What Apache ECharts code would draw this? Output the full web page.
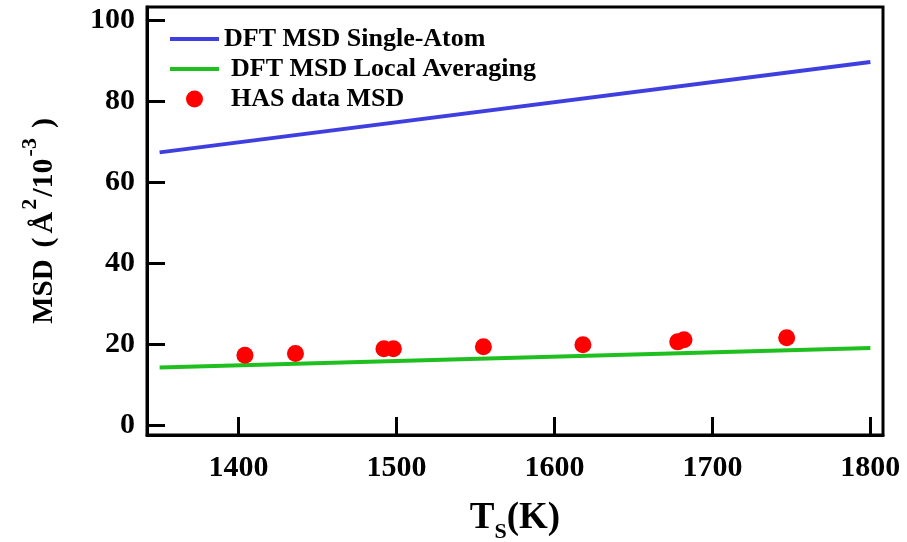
<!DOCTYPE html>
<html>
<head>
<meta charset="utf-8">
<script src="https://cdn.jsdelivr.net/npm/echarts@6/dist/echarts.min.js"></script>
<style>
  html, body { margin: 0; padding: 0; background: #fff; }
  #chart { width: 907px; height: 542px; }
</style>
</head>
<body>
<div id="chart"></div>
<script>
// Series names
const seriesNames = ['DFT MSD Single-Atom', 'DFT MSD Local Averaging', 'HAS data MSD'];

// DFT single-atom MSD (temperature K, MSD)
const singleAtomT = [1350, 1800];
const singleAtomMSD = [67.3, 89.6];

// DFT local-averaging MSD
const localAvgT = [1350, 1800];
const localAvgMSD = [14.2, 19.0];

// Helium atom scattering measurements
const hasT = [1404, 1436, 1492, 1498, 1555, 1618, 1678, 1682, 1747];
const hasMSD = [17.2, 17.6, 18.8, 18.8, 19.3, 19.8, 20.5, 21.0, 21.5];

const pairs = (xs, ys) => xs.map((x, i) => [x, ys[i]]);

const FONT = '"Liberation Serif", "Times New Roman", serif';
const BLUE = '#3f3fe0';
const GREEN = '#1fbf1f';
const RED = '#ff0000';

const chart = echarts.init(document.getElementById('chart'), null, { renderer: 'canvas' });

const legendText = { fontFamily: FONT, fontWeight: 'bold', fontSize: 26, color: '#000', lineHeight: 26 };
const yTitle = { fontFamily: FONT, fontWeight: 'bold', color: '#000', lineHeight: 40 };

chart.setOption({
  backgroundColor: '#ffffff',
  animation: false,
  grid: {
    left: 147, right: 24, top: 7, bottom: 107,
    outerBoundsMode: 'none',
    containLabel: false,
    show: true, borderColor: '#000', borderWidth: 3,
    backgroundColor: 'transparent'
  },
  legend: {
    orient: 'vertical',
    left: 168, top: 26, padding: 0,
    itemWidth: 49, itemHeight: 17, itemGap: 4,
    data: [
      { name: seriesNames[0], itemStyle: { opacity: 0 }, lineStyle: { width: 4 } },
      { name: seriesNames[1], itemStyle: { opacity: 0 }, lineStyle: { width: 4 } },
      { name: seriesNames[2] }
    ],
    textStyle: Object.assign({}, legendText, {
      rich: { sh: Object.assign({}, legendText, { padding: [0, 0, 0, 7] }) }
    }),
    formatter: name => name === seriesNames[0] ? name : '{sh|' + name + '}'
  },
  xAxis: {
    type: 'value',
    min: 1342, max: 1808,
    splitNumber: 5,
    name: '{a|T}{s|S}{a|(K)}',
    nameLocation: 'middle',
    nameGap: 62,
    nameTextStyle: {
      rich: {
        a: { fontFamily: FONT, fontWeight: 'bold', fontSize: 37, color: '#000', lineHeight: 40, verticalAlign: 'bottom' },
        s: { fontFamily: FONT, fontWeight: 'bold', fontSize: 22, color: '#000', lineHeight: 40, verticalAlign: 'bottom', padding: [0, 0, -6, 0] }
      }
    },
    axisLine: { show: true, onZero: false, lineStyle: { color: '#000', width: 3 } },
    axisTick: { show: true, inside: true, length: 18, lineStyle: { color: '#000', width: 3 } },
    axisLabel: {
      show: true, margin: 18, color: '#000', fontFamily: FONT, fontWeight: 'bold', fontSize: 30,
      showMinLabel: false, showMaxLabel: false,
      formatter: v => (v % 100 === 0 ? String(v) : '')
    },
    splitLine: { show: false }
  },
  yAxis: {
    type: 'value',
    min: -2.5, max: 103.2,
    splitNumber: 5,
    name: '{m|MSD}{p|(}{a|Å}{s|2}{a|/10}{s|-3}{q|)}',
    nameLocation: 'middle',
    nameRotate: 90,
    nameGap: 88,
    nameTextStyle: {
      rich: {
        m: Object.assign({ fontSize: 29, verticalAlign: 'bottom' }, yTitle),
        p: Object.assign({ fontSize: 30, verticalAlign: 'bottom', padding: [0, 4, 0, 12] }, yTitle),
        a: Object.assign({ fontSize: 30, verticalAlign: 'bottom' }, yTitle),
        q: Object.assign({ fontSize: 30, verticalAlign: 'bottom', padding: [0, 0, 0, 8] }, yTitle),
        s: Object.assign({ fontSize: 22, verticalAlign: 'top', padding: [0, 2, 0, 2] }, yTitle)
      }
    },
    axisLine: { show: true, onZero: false, lineStyle: { color: '#000', width: 3 } },
    axisTick: { show: true, inside: true, length: 18, lineStyle: { color: '#000', width: 3 } },
    axisLabel: {
      show: true, margin: 12, color: '#000', fontFamily: FONT, fontWeight: 'bold', fontSize: 30,
      showMinLabel: false, showMaxLabel: false,
      formatter: v => (v % 20 === 0 ? String(v) : '')
    },
    splitLine: { show: false }
  },
  series: [
    {
      name: seriesNames[0], type: 'line', data: pairs(singleAtomT, singleAtomMSD),
      symbol: 'none', lineStyle: { color: BLUE, width: 4 }, itemStyle: { color: BLUE }
    },
    {
      name: seriesNames[1], type: 'line', data: pairs(localAvgT, localAvgMSD),
      symbol: 'none', lineStyle: { color: GREEN, width: 4 }, itemStyle: { color: GREEN }
    },
    {
      name: seriesNames[2], type: 'scatter', data: pairs(hasT, hasMSD),
      symbol: 'circle', symbolSize: 17, itemStyle: { color: RED, opacity: 1 }, z: 3
    }
  ]
});
</script>
</body>
</html>
